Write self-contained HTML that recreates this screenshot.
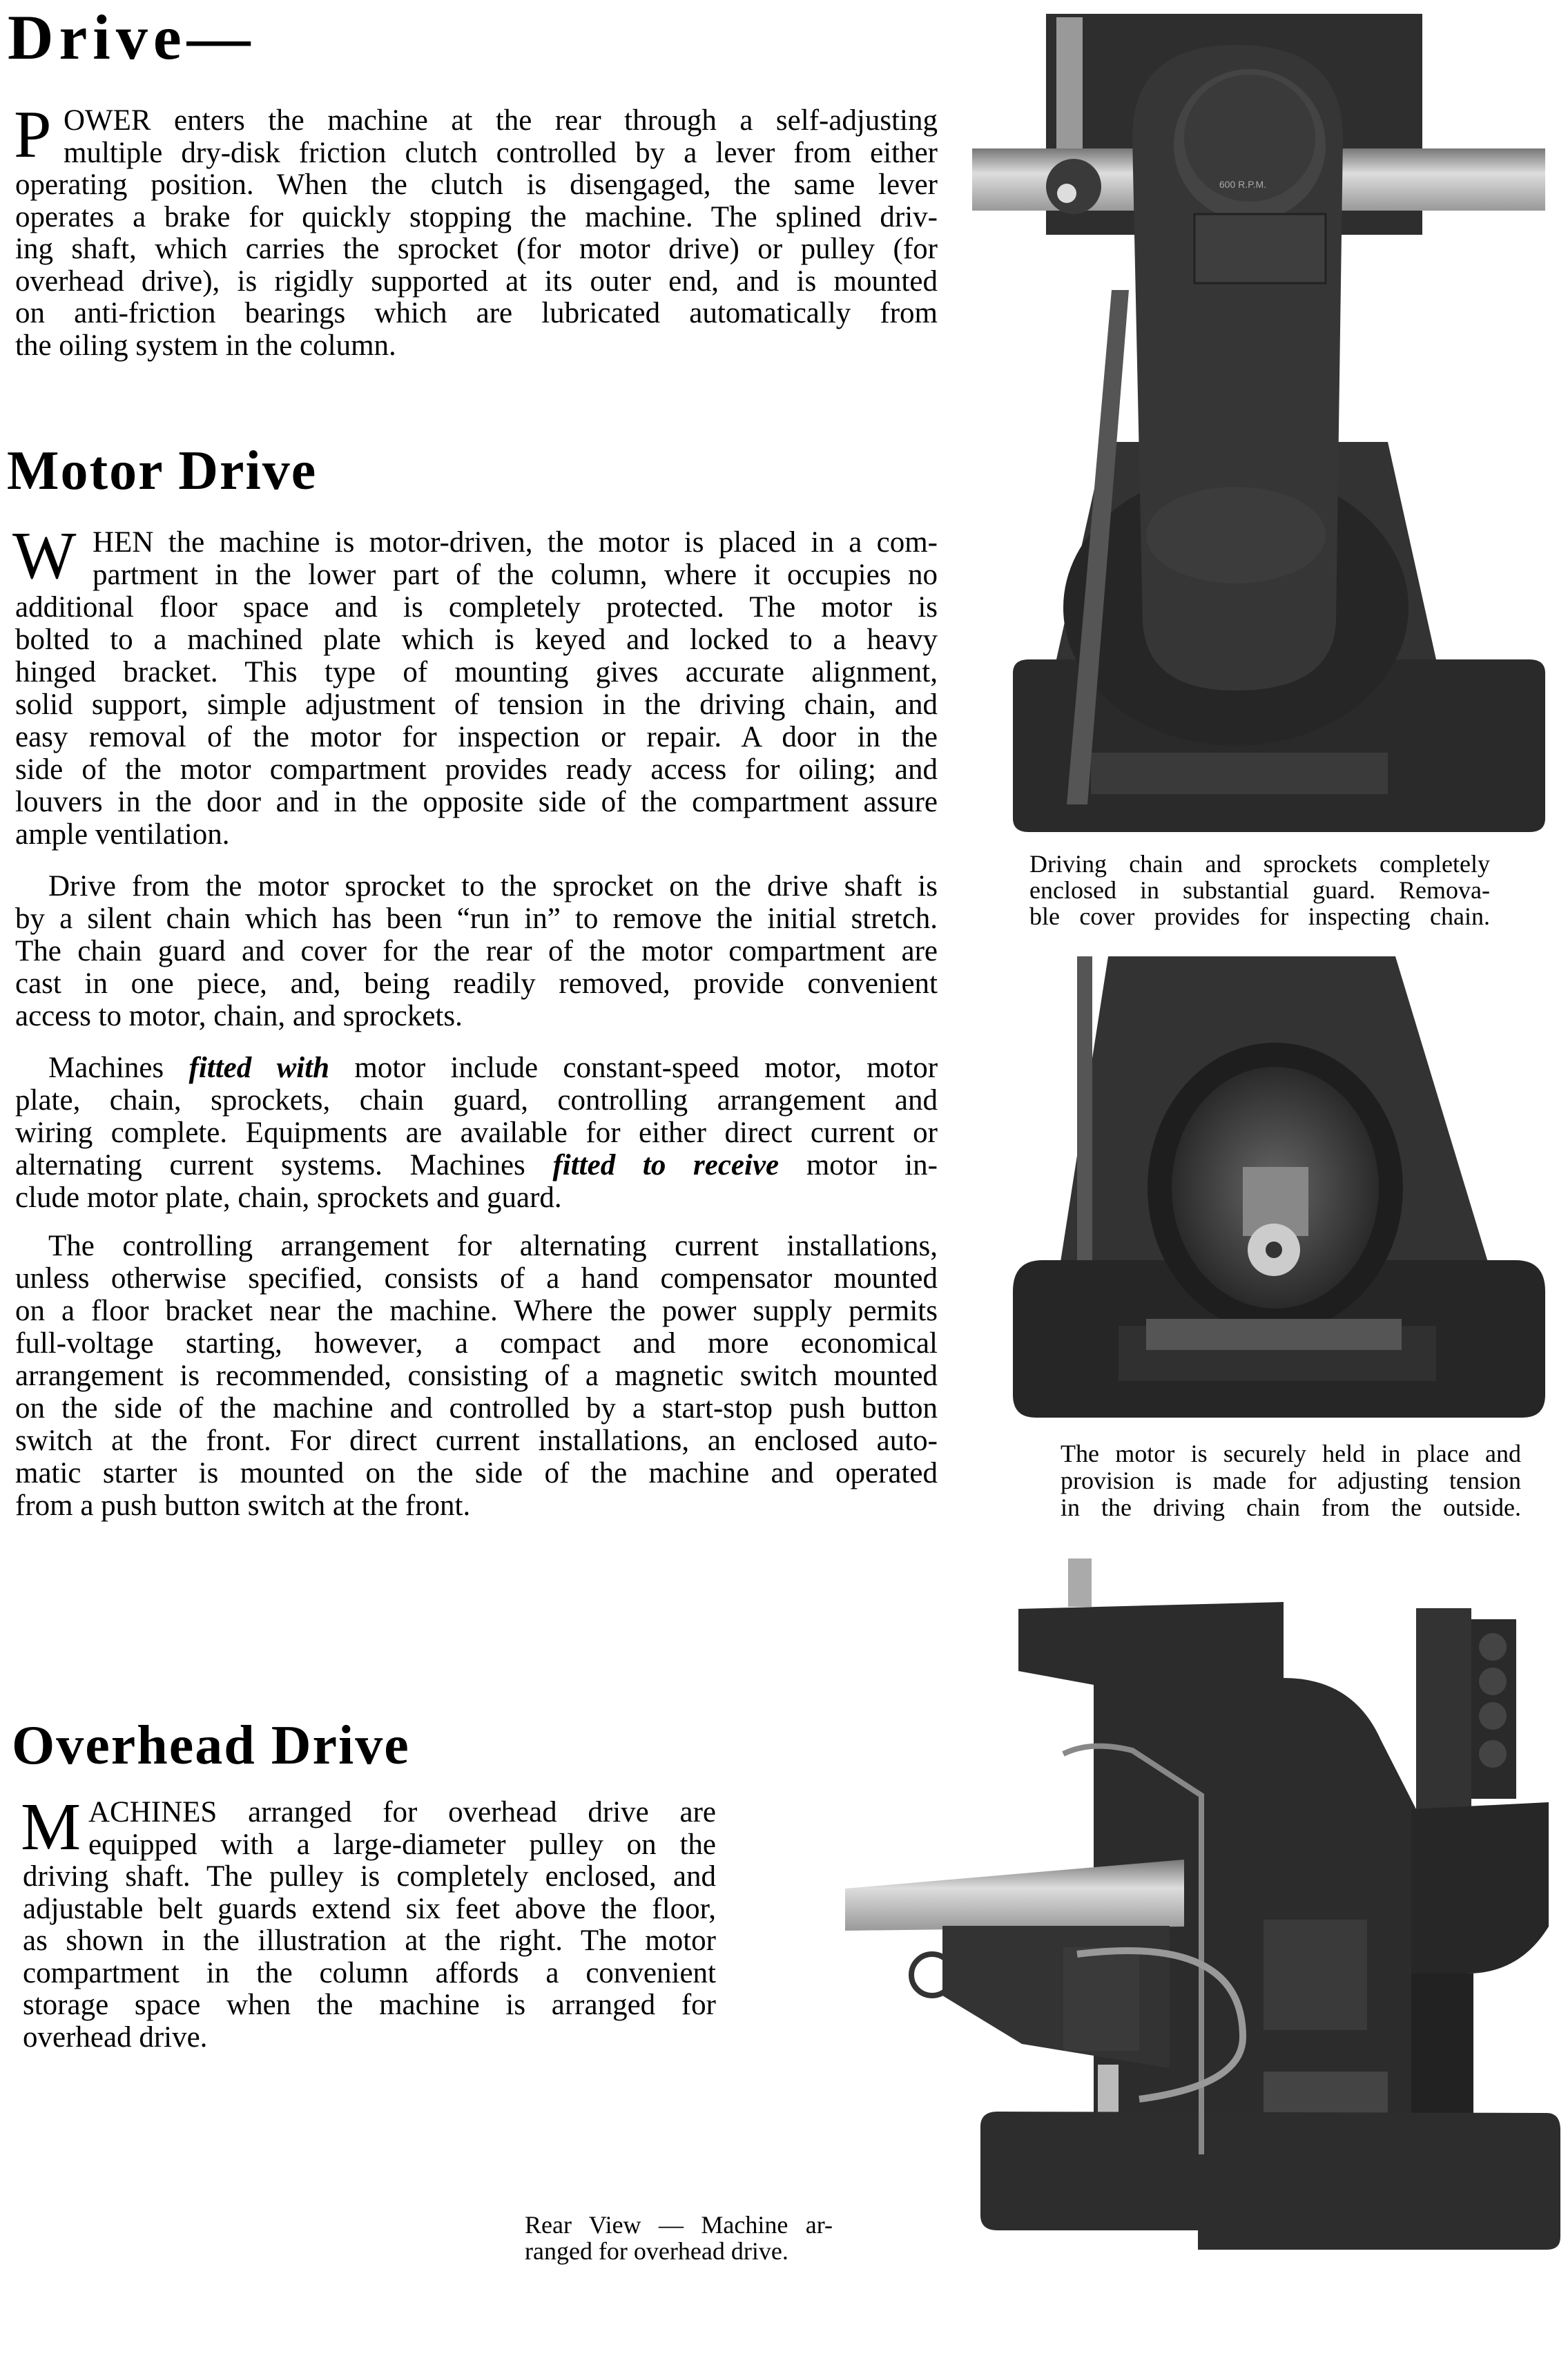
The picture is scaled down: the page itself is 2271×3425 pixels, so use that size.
<!DOCTYPE html>
<html><head><meta charset="utf-8">
<style>
html,body{margin:0;padding:0;background:#fff;}
body{width:2271px;height:3425px;position:relative;overflow:hidden;font-family:"Liberation Serif",serif;color:#000;}
.p{position:absolute;font-size:43px;}
.p div{white-space:nowrap;text-align:justify;text-align-last:justify;}
.p div.l{text-align-last:left;}
.h{position:absolute;font-family:"Liberation Serif",serif;font-weight:bold;white-space:nowrap;}
.cap{position:absolute;font-size:36px;}
.cap div{white-space:nowrap;text-align:justify;text-align-last:justify;}
.dc{position:absolute;font-size:98px;line-height:1;}
svg{position:absolute;left:0;top:0;}
</style></head><body>

<svg width="2271" height="3425" viewBox="0 0 2271 3425">
<defs>
<linearGradient id="tb" x1="0" y1="0" x2="0" y2="1"><stop offset="0" stop-color="#777"/><stop offset=".4" stop-color="#ddd"/><stop offset="1" stop-color="#999"/></linearGradient>
<radialGradient id="mg" cx=".5" cy=".5" r=".5"><stop offset="0" stop-color="#666"/><stop offset="1" stop-color="#2a2a2a"/></radialGradient>
</defs>
<!-- Photo 1 -->
<rect x="1515" y="20" width="545" height="320" fill="#2e2e2e"/>
<rect x="1530" y="25" width="38" height="190" fill="#999"/>
<rect x="1408" y="215" width="830" height="90" fill="url(#tb)"/>
<polygon points="1600,640 2010,640 2090,1000 1520,1000" fill="#333"/>
<path d="M1467,975 Q1467,955 1490,955 L2215,955 Q2238,955 2238,975 L2238,1185 Q2238,1205 2215,1205 L1490,1205 Q1467,1205 1467,1185 Z" fill="#2a2a2a"/>
<rect x="1580" y="1090" width="430" height="60" fill="#3a3a3a"/>
<ellipse cx="1790" cy="880" rx="250" ry="200" fill="#262626"/>
<path d="M1640,200 Q1640,65 1790,65 Q1945,65 1945,200 L1935,900 Q1930,1000 1790,1000 Q1660,1000 1655,900 Z" fill="#363636"/>
<ellipse cx="1790" cy="775" rx="130" ry="70" fill="#3c3c3c"/>
<ellipse cx="1810" cy="210" rx="110" ry="110" fill="#444"/>
<ellipse cx="1810" cy="200" rx="95" ry="92" fill="#3a3a3a"/>
<rect x="1730" y="310" width="190" height="100" fill="#3e3e3e" stroke="#222" stroke-width="3"/>
<text x="1800" y="272" font-family="Liberation Sans,sans-serif" font-size="14" fill="#aaa" text-anchor="middle">600 R.P.M.</text>
<polygon points="1545,1165 1575,1165 1635,420 1610,420" fill="#555"/>
<ellipse cx="1555" cy="270" rx="40" ry="40" fill="#3a3a3a"/>
<circle cx="1545" cy="280" r="14" fill="#ddd"/>
<!-- Photo 2 -->
<polygon points="1605,1385 2021,1385 2186,1930 1520,1930" fill="#333"/>
<rect x="1560" y="1385" width="22" height="450" fill="#555"/>
<path d="M1467,1870 Q1467,1825 1510,1825 L2195,1825 Q2238,1825 2238,1870 L2238,2020 Q2238,2053 2205,2053 L1500,2053 Q1467,2053 1467,2020 Z" fill="#262626"/>
<rect x="1620" y="1920" width="460" height="80" fill="#303030"/>
<ellipse cx="1847" cy="1720" rx="185" ry="210" fill="#1e1e1e"/>
<ellipse cx="1847" cy="1720" rx="150" ry="175" fill="url(#mg)"/>
<rect x="1800" y="1690" width="95" height="100" fill="#888"/>
<circle cx="1845" cy="1810" r="38" fill="#ccc"/>
<circle cx="1845" cy="1810" r="12" fill="#333"/>
<rect x="1660" y="1910" width="370" height="45" fill="#555"/>
<!-- Photo 3 -->
<rect x="1547" y="2257" width="34" height="70" fill="#aaa"/>
<path d="M1475,2330 L1859,2320 L1859,2430 Q1960,2430 2000,2520 L2051,2620 L2051,3132 L1584,3132 L1584,2440 L1475,2420 Z" fill="#2c2c2c"/>
<rect x="2051" y="2329" width="80" height="295" fill="#333"/>
<rect x="2131" y="2345" width="65" height="260" fill="#2a2a2a"/>
<circle cx="2162" cy="2385" r="20" fill="#444"/><circle cx="2162" cy="2435" r="20" fill="#444"/><circle cx="2162" cy="2485" r="20" fill="#444"/><circle cx="2162" cy="2540" r="20" fill="#444"/>
<path d="M2044,2620 L2243,2610 L2243,2790 Q2200,2860 2120,2858 L2044,2858 Z" fill="#272727"/>
<rect x="2044" y="2858" width="90" height="210" fill="#222"/>
<polygon points="1224,2735 1715,2693 1715,2790 1224,2796" fill="url(#tb)"/>
<polygon points="1365,2789 1694,2789 1694,2995 1480,2960 1365,2890" fill="#333"/>
<rect x="1540" y="2820" width="110" height="150" fill="#3a3a3a"/>
<rect x="1830" y="2780" width="150" height="160" fill="#3a3a3a"/>
<rect x="1830" y="3000" width="180" height="160" fill="#444"/>
<rect x="1590" y="2990" width="30" height="120" fill="#bbb"/>
<circle cx="1350" cy="2860" r="30" fill="none" stroke="#333" stroke-width="8"/>
<path d="M1420,3080 Q1420,3058 1445,3058 L2240,3060 Q2260,3060 2260,3085 L2260,3240 Q2260,3258 2240,3258 L1735,3258 L1735,3230 L1445,3230 Q1420,3230 1420,3208 Z" fill="#2d2d2d"/>
<path d="M1540,2540 Q1580,2520 1640,2535 L1740,2600 L1740,3120" fill="none" stroke="#888" stroke-width="8"/>
<path d="M1560,2830 Q1800,2800 1800,2950 Q1800,3020 1650,3040" fill="none" stroke="#999" stroke-width="10"/>
</svg>

<div class="h" style="left:11px;top:8px;font-size:92px;letter-spacing:8px;line-height:1;">Drive—</div>

<div class="dc" style="left:20px;top:146px;">P</div>
<div class="p" style="left:22px;top:152px;width:1336px;line-height:46.5px;">
<div style="margin-left:70px">OWER enters the machine at the rear through a self-adjusting</div>
<div style="margin-left:70px">multiple dry-disk friction clutch controlled by a lever from either</div>
<div>operating position. When the clutch is disengaged, the same lever</div>
<div>operates a brake for quickly stopping the machine. The splined driv-</div>
<div>ing shaft, which carries the sprocket (for motor drive) or pulley (for</div>
<div>overhead drive), is rigidly supported at its outer end, and is mounted</div>
<div>on anti-friction bearings which are lubricated automatically from</div>
<div class="l">the oiling system in the column.</div>
</div>

<div class="h" style="left:10px;top:642px;font-size:80px;letter-spacing:2px;line-height:1;">Motor Drive</div>

<div class="dc" style="left:18px;top:756px;">W</div>
<div class="p" style="left:22px;top:762px;width:1336px;line-height:47px;">
<div style="margin-left:112px">HEN the machine is motor-driven, the motor is placed in a com-</div>
<div style="margin-left:112px">partment in the lower part of the column, where it occupies no</div>
<div>additional floor space and is completely protected. The motor is</div>
<div>bolted to a machined plate which is keyed and locked to a heavy</div>
<div>hinged bracket. This type of mounting gives accurate alignment,</div>
<div>solid support, simple adjustment of tension in the driving chain, and</div>
<div>easy removal of the motor for inspection or repair. A door in the</div>
<div>side of the motor compartment provides ready access for oiling; and</div>
<div>louvers in the door and in the opposite side of the compartment assure</div>
<div class="l">ample ventilation.</div>
</div>

<div class="p" style="left:22px;top:1260px;width:1336px;line-height:47px;">
<div style="margin-left:48px">Drive from the motor sprocket to the sprocket on the drive shaft is</div>
<div>by a silent chain which has been “run in” to remove the initial stretch.</div>
<div>The chain guard and cover for the rear of the motor compartment are</div>
<div>cast in one piece, and, being readily removed, provide convenient</div>
<div class="l">access to motor, chain, and sprockets.</div>
</div>

<div class="p" style="left:22px;top:1523px;width:1336px;line-height:47px;">
<div style="margin-left:48px">Machines <b><i>fitted with</i></b> motor include constant-speed motor, motor</div>
<div>plate, chain, sprockets, chain guard, controlling arrangement and</div>
<div>wiring complete. Equipments are available for either direct current or</div>
<div>alternating current systems. Machines <b><i>fitted to receive</i></b> motor in-</div>
<div class="l">clude motor plate, chain, sprockets and guard.</div>
</div>

<div class="p" style="left:22px;top:1781px;width:1336px;line-height:47px;">
<div style="margin-left:48px">The controlling arrangement for alternating current installations,</div>
<div>unless otherwise specified, consists of a hand compensator mounted</div>
<div>on a floor bracket near the machine. Where the power supply permits</div>
<div>full-voltage starting, however, a compact and more economical</div>
<div>arrangement is recommended, consisting of a magnetic switch mounted</div>
<div>on the side of the machine and controlled by a start-stop push button</div>
<div>switch at the front. For direct current installations, an enclosed auto-</div>
<div>matic starter is mounted on the side of the machine and operated</div>
<div class="l">from a push button switch at the front.</div>
</div>

<div class="cap" style="left:1491px;top:1232px;width:667px;line-height:38px;">
<div>Driving chain and sprockets completely</div>
<div>enclosed in substantial guard. Remova-</div>
<div>ble cover provides for inspecting chain.</div>
</div>

<div class="cap" style="left:1536px;top:2086px;width:667px;line-height:39px;">
<div>The motor is securely held in place and</div>
<div>provision is made for adjusting tension</div>
<div>in the driving chain from the outside.</div>
</div>

<div class="h" style="left:17px;top:2488px;font-size:80px;letter-spacing:2px;line-height:1;">Overhead Drive</div>

<div class="dc" style="left:30px;top:2597px;">M</div>
<div class="p" style="left:33px;top:2602px;width:1004px;line-height:46.5px;">
<div style="margin-left:95px">ACHINES arranged for overhead drive are</div>
<div style="margin-left:95px">equipped with a large-diameter pulley on the</div>
<div>driving shaft. The pulley is completely enclosed, and</div>
<div>adjustable belt guards extend six feet above the floor,</div>
<div>as shown in the illustration at the right. The motor</div>
<div>compartment in the column affords a convenient</div>
<div>storage space when the machine is arranged for</div>
<div class="l">overhead drive.</div>
</div>

<div class="cap" style="left:760px;top:3203px;width:446px;line-height:38px;">
<div>Rear View — Machine ar-</div>
<div style="text-align-last:left">ranged for overhead drive.</div>
</div>

</body></html>
